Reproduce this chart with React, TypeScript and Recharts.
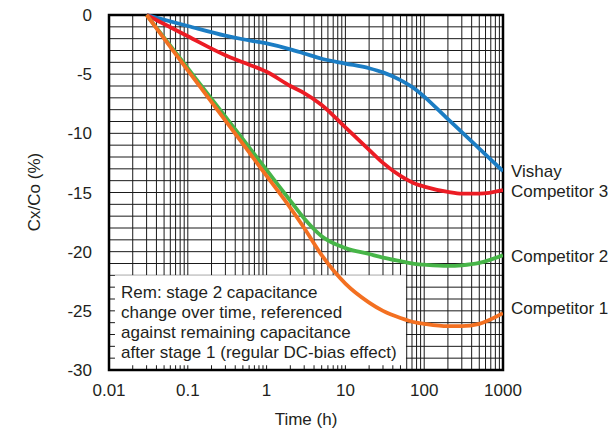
import { LineChart, Line, XAxis, YAxis, CartesianGrid, ReferenceArea } from 'recharts';

const TIME = [0.03, 0.1, 0.3, 0.5, 1, 2, 3, 5, 10, 20, 30, 50, 80, 100, 200, 300, 500, 1000];
const VISHAY = [0, -0.93, -1.75, -2.05, -2.4, -2.9, -3.25, -3.7, -4.1, -4.5, -4.85, -5.5, -6.35, -6.9, -8.8, -9.9, -11.3, -13.2];
const COMP3 = [0, -1.8, -3.4, -4.0, -4.8, -6.0, -6.6, -7.6, -9.5, -11.4, -12.5, -13.6, -14.3, -14.5, -14.95, -15.1, -15.1, -14.8];
const COMP2 = [0, -4.5, -8.6, -10.5, -13.1, -15.7, -17.2, -18.7, -19.7, -20.2, -20.5, -20.8, -21.05, -21.1, -21.2, -21.15, -20.95, -20.3];
const COMP1 = [0, -4.67, -8.93, -10.9, -13.6, -16.3, -18.0, -20.3, -22.7, -24.3, -25.0, -25.6, -26.0, -26.1, -26.3, -26.3, -26.1, -25.2];

const SERIES = [
  { key: 'vishay', name: 'Vishay', values: VISHAY, color: '#1b7dc4' },
  { key: 'comp3', name: 'Competitor 3', values: COMP3, color: '#ec1c24' },
  { key: 'comp2', name: 'Competitor 2', values: COMP2, color: '#47b548' },
  { key: 'comp1', name: 'Competitor 1', values: COMP1, color: '#f37021' },
];

const DECADES = [0.01, 0.1, 1, 10, 100];
const MULTS = [1, 2, 3, 4, 5, 6, 7, 8, 9];
const X_TICKS = [...DECADES.flatMap((d) => MULTS.map((m) => +(d * m).toPrecision(3))), 1000];
const X_LABELS = ['0.01', '0.1', '1', '10', '100', '1000'];
const Y_TICKS = [-30, -29, -28, -27, -26, -25, -24, -23, -22, -21, -20, -19, -18, -17, -16, -15,
  -14, -13, -12, -11, -10, -9, -8, -7, -6, -5, -4, -3, -2, -1, 0];

const NOTE = [
  'Rem: stage 2 capacitance',
  'change over time, referenced',
  'against remaining capacitance',
  'after stage 1 (regular DC-bias effect)',
];
// y positions of end labels (px, centre of text)
const END_LABEL_Y = [172, 192, 257, 309];

const data = TIME.map((t, i) => ({
  t,
  vishay: VISHAY[i],
  comp3: COMP3[i],
  comp2: COMP2[i],
  comp1: COMP1[i],
}));

const FONT = '"Liberation Sans", Arial, sans-serif';
const TEXT = '#231f20';

export default function App() {
  return (
    <div style={{ position: 'absolute', left: 0, top: 0, width: 608, height: 431, background: '#fff', fontFamily: FONT, color: TEXT }}>
      <LineChart
        width={608}
        height={431}
        data={data}
        margin={{ top: 15, right: 105, left: 49, bottom: 31 }}
        style={{ fontFamily: FONT }}
      >
        <CartesianGrid stroke="#1a1a1a" strokeWidth={1} horizontal vertical />
        <XAxis
          dataKey="t"
          type="number"
          scale="log"
          domain={[0.01, 1000]}
          ticks={X_TICKS}
          allowDataOverflow
          tickFormatter={(v: number) => (X_LABELS.includes(String(v)) ? String(v) : '')}
          tickLine={false}
          axisLine={false}
          tickMargin={8}
          height={30}
          tick={{ fontSize: 17, fill: TEXT }}
          interval={0}
        />
        <YAxis
          type="number"
          domain={[-30, 0]}
          ticks={Y_TICKS}
          tickFormatter={(v: number) => (v % 5 === 0 ? String(v) : '')}
          tickLine={false}
          axisLine={false}
          tickMargin={11}
          width={60}
          tick={{ fontSize: 17, fill: TEXT }}
          interval={0}
        />
        <ReferenceArea x1={0.0119} x2={58.7} y1={-29.6} y2={-22} fill="#fff" fillOpacity={1} stroke="none" />
        {SERIES.map((s) => (
          <Line
            key={s.key}
            dataKey={s.key}
            type="monotone"
            stroke={s.color}
            strokeWidth={3.8}
            dot={false}
            isAnimationActive={false}
          />
        ))}
        <ReferenceArea x1={0.01} x2={1000} y1={-30} y2={0} fill="none" stroke="#000" strokeWidth={2.5} />
      </LineChart>

      {NOTE.map((line, i) => (
        <div key={i} style={{ position: 'absolute', left: 121, top: 283 + i * 20, fontSize: 17, lineHeight: '20px', whiteSpace: 'nowrap' }}>
          {line}
        </div>
      ))}
      {SERIES.map((s, i) => (
        <div key={s.key} style={{ position: 'absolute', left: 511, top: END_LABEL_Y[i] - 10, fontSize: 17, lineHeight: '20px', whiteSpace: 'nowrap' }}>
          {s.name}
        </div>
      ))}
      <div style={{ position: 'absolute', left: 256, top: 410, width: 100, textAlign: 'center', fontSize: 17, lineHeight: '20px' }}>
        Time (h)
      </div>
      <div style={{ position: 'absolute', left: -15, top: 182, width: 100, textAlign: 'center', fontSize: 17, lineHeight: '20px', transform: 'rotate(-90deg)' }}>
        Cx/Co (%)
      </div>
    </div>
  );
}
